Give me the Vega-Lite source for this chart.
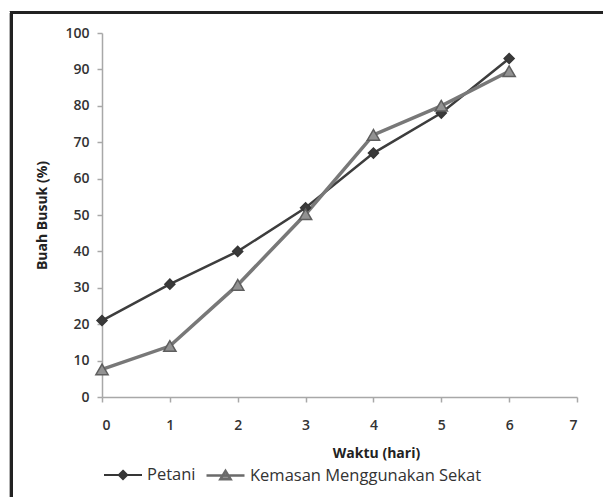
{
  "$schema": "https://vega.github.io/schema/vega-lite/v6.json",
  "width": 475,
  "height": 364,
  "autosize": "none",
  "padding": {"left": 102, "top": 33, "right": 26, "bottom": 100},
  "background": "white",
  "config": {
    "view": {"stroke": null},
    "font": "Open Sans",
    "axis": {
      "grid": false,
      "domainColor": "#a8a8a8",
      "domainWidth": 1.5,
      "tickColor": "#a8a8a8",
      "tickWidth": 1.5,
      "tickSize": 5,
      "labelFont": "Open Sans",
      "labelFontSize": 14,
      "labelFontWeight": 600,
      "labelColor": "#333333",
      "titleFont": "Open Sans",
      "titleFontSize": 14,
      "titleFontWeight": "bold",
      "titleColor": "#222222"
    },
    "legend": {
      "title": null,
      "orient": "none",
      "padding": 0,
      "labelFont": "Open Sans",
      "labelFontSize": 16.5,
      "labelColor": "#333333",
      "labelLimit": 400,
      "labelOffset": 4,
      "symbolSize": 1444
    }
  },
  "data": {
    "values": [
      {"hari": 0, "series": "Petani", "busuk": 21},
      {"hari": 1, "series": "Petani", "busuk": 31},
      {"hari": 2, "series": "Petani", "busuk": 40},
      {"hari": 3, "series": "Petani", "busuk": 52},
      {"hari": 4, "series": "Petani", "busuk": 67},
      {"hari": 5, "series": "Petani", "busuk": 78},
      {"hari": 6, "series": "Petani", "busuk": 93},
      {"hari": 0, "series": "Kemasan Menggunakan Sekat", "busuk": 7.6},
      {"hari": 1, "series": "Kemasan Menggunakan Sekat", "busuk": 14},
      {"hari": 2, "series": "Kemasan Menggunakan Sekat", "busuk": 30.8},
      {"hari": 3, "series": "Kemasan Menggunakan Sekat", "busuk": 50.2},
      {"hari": 4, "series": "Kemasan Menggunakan Sekat", "busuk": 72},
      {"hari": 5, "series": "Kemasan Menggunakan Sekat", "busuk": 80},
      {"hari": 6, "series": "Kemasan Menggunakan Sekat", "busuk": 89.5}
    ]
  },
  "encoding": {
    "x": {
      "field": "hari",
      "type": "quantitative",
      "scale": {"domain": [0, 7], "nice": false, "zero": false},
      "axis": {"values": [0, 1, 2, 3, 4, 5, 6, 7], "labelPadding": 16, "title": "Waktu (hari)", "titlePadding": 14, "titleX": 274}
    },
    "y": {
      "field": "busuk",
      "type": "quantitative",
      "scale": {"domain": [0, 100], "nice": false},
      "axis": {"values": [0, 10, 20, 30, 40, 50, 60, 70, 80, 90, 100], "labelPadding": 8, "title": "Buah Busuk  (%)", "titlePadding": 15}
    }
  },
  "resolve": {"scale": {"fill": "independent"}, "legend": {"fill": "independent"}},
  "layer": [
    {
      "mark": {"type": "rect", "fill": "transparent", "stroke": "#222222", "strokeWidth": 3, "clip": false},
      "encoding": {
        "x": {"datum": -1.334},
        "x2": {"datum": 9},
        "y": {"datum": 105.6},
        "y2": {"datum": -40}
      }
    },
    {
      "mark": {"type": "line"},
      "encoding": {
        "color": {
          "field": "series",
          "type": "nominal",
          "scale": {"domain": ["Kemasan Menggunakan Sekat", "Petani"], "range": ["#787878", "#3d3d3d"]},
          "legend": null
        },
        "strokeWidth": {
          "field": "series",
          "type": "nominal",
          "scale": {"domain": ["Kemasan Menggunakan Sekat", "Petani"], "range": [3.5, 2.5]},
          "legend": null
        }
      }
    },
    {
      "transform": [{"filter": "datum.series === 'Petani'"}],
      "mark": {"type": "point", "shape": "diamond", "filled": true, "opacity": 1, "size": 100, "stroke": "#363636", "strokeWidth": 1.5},
      "encoding": {
        "fill": {
          "field": "series",
          "type": "nominal",
          "scale": {"domain": ["Petani"], "range": ["#3a3a3a"]},
          "legend": {
            "legendX": 1,
            "legendY": 422,
            "symbolType": "M-1,0H1M0,-0.22L0.22,0L0,0.22L-0.22,0Z",
            "symbolStrokeColor": "#363636",
            "symbolStrokeWidth": 2
          }
        }
      }
    },
    {
      "transform": [{"filter": "datum.series === 'Kemasan Menggunakan Sekat'"}],
      "mark": {"type": "point", "shape": "triangle-up", "filled": true, "opacity": 1, "size": 150, "stroke": "#5e5e5e", "strokeWidth": 1.5},
      "encoding": {
        "fill": {
          "field": "series",
          "type": "nominal",
          "scale": {"domain": ["Kemasan Menggunakan Sekat"], "range": ["#929292"]},
          "legend": {
            "legendX": 103,
            "legendY": 422,
            "symbolType": "M-1,0H1M0,-0.24L0.27,0.2L-0.27,0.2Z",
            "symbolStrokeColor": "#6a6a6a",
            "symbolStrokeWidth": 2.5
          }
        }
      }
    }
  ]
}
